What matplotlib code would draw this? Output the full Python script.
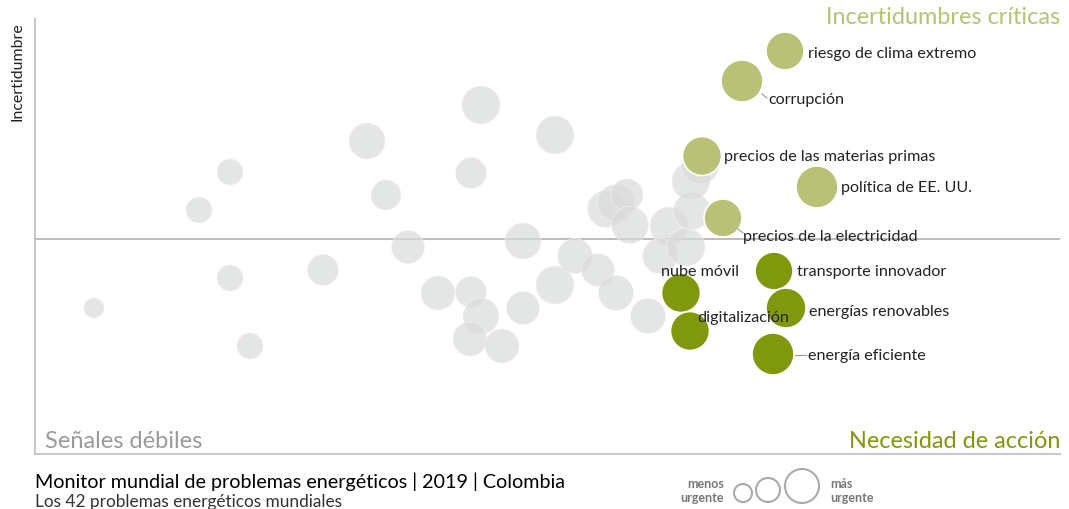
import matplotlib.pyplot as plt

# posiciones (x = necesidad de acción, y = incertidumbre, en px del lienzo)
gray_x = [94, 250, 230, 199, 230, 367, 386, 323, 408, 481, 555, 471, 523, 438, 471, 481,
          470, 502, 523, 555, 575, 598, 616, 648, 606, 616, 627, 630, 669, 660, 686, 692,
          691, 700]
gray_y = [309, 347, 279, 211, 173, 142, 196, 271, 248, 106, 136, 174, 242, 294, 293, 317,
          340, 347, 309, 286, 257, 271, 294, 317, 210, 204, 196, 226, 227, 257, 248, 212,
          182, 166]
gray_d = [20, 26, 26, 26, 26, 36, 30, 31, 33, 38, 38, 31, 36, 34, 31, 36,
          34, 34, 33, 38, 35, 33, 35, 35, 37, 37, 32, 37, 38, 35, 38, 37,
          38, 38]

crit_names = ['riesgo de clima extremo', 'corrupción', 'precios de las materias primas',
              'política de EE. UU.', 'precios de la electricidad']
crit_x = [785, 742, 702, 817, 723]
crit_y = [52, 82, 157, 188, 219]
crit_d = [38, 42, 39, 42, 38]

act_names = ['transporte innovador', 'nube móvil', 'energías renovables',
             'digitalización', 'energía eficiente']
act_x = [774, 681, 786, 690, 773]
act_y = [272, 294, 309, 332, 355]
act_d = [38, 39, 40, 39, 42]

LIGHT = '#b8c176'
DARK = '#80980c'
W, H = 1069, 510

plt.rcParams['font.family'] = ['Lato', 'DejaVu Sans']

fig = plt.figure(figsize=(W / 100, H / 100), dpi=100)
ax = fig.add_axes([35 / W, (H - 455) / H, 1025 / W, 435 / H])
ax.set_xlim(35, 1060)
ax.set_ylim(455, 20)
ax.set_xticks([])
ax.set_yticks([])
for s in ['top', 'right']:
    ax.spines[s].set_visible(False)
for s in ['left', 'bottom']:
    ax.spines[s].set_color('#c8c8c8')
    ax.spines[s].set_linewidth(1.5)

ax.axhline(240, color='#b0b0b0', lw=1.2, zorder=1)


def sz(d):
    return [(v * 0.72) ** 2 for v in d]


ax.scatter(gray_x, gray_y, s=sz(gray_d), color='#d9dada', alpha=0.7,
           edgecolors='#f4f4f4', linewidths=0.6, zorder=2)
ax.scatter(crit_x, crit_y, s=sz(crit_d), color=LIGHT,
           edgecolors='white', linewidths=1.2, zorder=3)
ax.scatter(act_x, act_y, s=sz(act_d), color=DARK,
           edgecolors='white', linewidths=1.2, zorder=3)

lab = dict(fontsize=11.6, color='#222222', va='center', zorder=5)
# etiquetas de incertidumbres críticas
ax.text(808, 54, crit_names[0], ha='left', **lab)
ax.text(768, 100, crit_names[1], ha='left', **lab)
ax.plot([762, 767], [95, 99], color='#999999', lw=0.8, zorder=4)
ax.text(724, 157, crit_names[2], ha='left', **lab)
ax.text(841, 188, crit_names[3], ha='left', **lab)
ax.text(743, 237, crit_names[4], ha='left', **lab)
ax.plot([738, 743], [230, 234], color='#999999', lw=0.8, zorder=4)
# etiquetas de necesidad de acción
ax.text(797, 272, act_names[0], ha='left', **lab)
ax.text(739, 272, act_names[1], ha='right', **lab)
ax.text(809, 312, act_names[2], ha='left', **lab)
ax.text(697, 318, act_names[3], ha='left', **lab)
ax.text(808, 356, act_names[4], ha='left', **lab)
ax.plot([795, 806], [356, 356], color='#999999', lw=0.8, zorder=4)

# cuadrantes
ax.text(1060, 17, 'Incertidumbres críticas', ha='right', va='center',
        fontsize=16.9, color=LIGHT, clip_on=False)
ax.text(1060, 442, 'Necesidad de acción', ha='right', va='center',
        fontsize=16.9, color=DARK)
ax.text(45, 441, 'Señales débiles', ha='left', va='center',
        fontsize=17, color='#9a9a9a')

fig.text(18 / W, 1 - 22 / H, 'Incertidumbre', rotation=90, ha='center', va='top',
         fontsize=11.4, color='#222222')

# leyenda de tamaño
leg_x = [743, 768, 802]
leg_y = [494, 491, 487]
leg_d = [18, 24, 34]
ax.scatter(leg_x, leg_y, s=sz(leg_d), facecolors='white', edgecolors='#aaaaaa',
           linewidths=1.5, clip_on=False, zorder=3)
ax.text(724, 491, 'menos\nurgente', ha='right', va='center', fontsize=9,
        color='#777777', fontweight='bold', linespacing=1.15)
ax.text(830, 491, 'más\nurgente', ha='left', va='center', fontsize=9,
        color='#777777', fontweight='bold', linespacing=1.15)

fig.text(35 / W, 1 - 482 / H, 'Monitor mundial de problemas energéticos | 2019 | Colombia',
         ha='left', va='center', fontsize=14.2, color='#000000')
fig.text(35 / W, 1 - 502 / H, 'Los 42 problemas energéticos mundiales',
         ha='left', va='center', fontsize=12.4, color='#333333')

fig.savefig('out.png', dpi=100)
